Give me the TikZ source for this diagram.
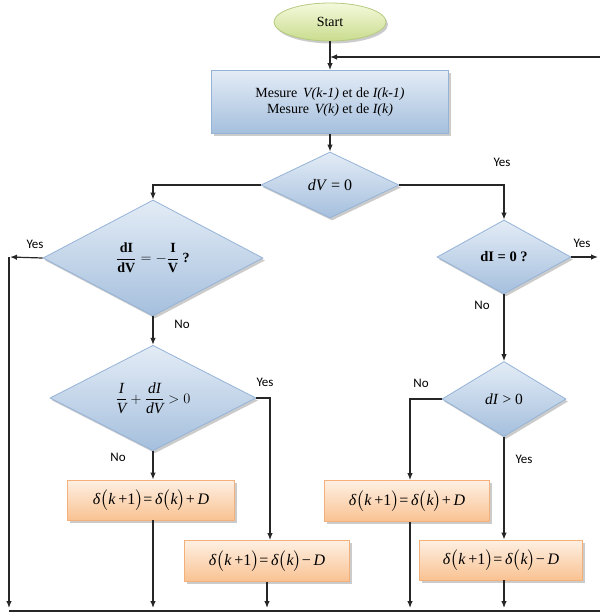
\documentclass[tikz,border=0pt]{standalone}
\usepackage{amsmath}
\usepackage{fontspec}
\setmainfont{Liberation Serif}
\newfontfamily\labfont{Carlito}
\usetikzlibrary{shapes.geometric,shadows,arrows.meta,calc}
\definecolor{stTop}{HTML}{F4F9DC}
\definecolor{stBot}{HTML}{C9DC8E}
\definecolor{stBorder}{HTML}{B5CA80}
\definecolor{blTop}{HTML}{E3ECF6}
\definecolor{blBot}{HTML}{A5BFDD}
\definecolor{blBorder}{HTML}{95B3D7}
\definecolor{orTop}{HTML}{FEF0E3}
\definecolor{orBot}{HTML}{F9C292}
\definecolor{orBorder}{HTML}{F3B07A}
\newcommand{\eqA}{\textbf{$\mathbf{\dfrac{dI}{dV}=-\dfrac{I}{V}}$\ ?}}
\newcommand{\eqB}{$\dfrac{\textit{I}}{\textit{V}}+\dfrac{\textit{dI}}{\textit{dV}}>0$}
\newcommand{\deltaP}{\textit{δ}$\big($\textit{k}\,+1$\big)$=\,\textit{δ}$\big($\textit{k}$\big)$+\,\textit{D}}
\newcommand{\deltaM}{\textit{δ}$\big($\textit{k}\,+1$\big)$=\,\textit{δ}$\big($\textit{k}$\big)$−\,\textit{D}}
\begin{document}
\begin{tikzpicture}[x=1pt,y=-1pt,
  shad/.style={drop shadow={shadow xshift=2pt,shadow yshift=-2.5pt,fill=black!45,opacity=0.45}},
  startnode/.style={ellipse,draw=stBorder,line width=0.8pt,top color=stTop,bottom color=stBot,shad,
    minimum width=112pt,minimum height=38pt,inner sep=0pt,font=\fontsize{14}{16}\selectfont},
  bluebox/.style={rectangle,draw=blBorder,line width=0.8pt,top color=blTop,bottom color=blBot,shad,
    inner sep=0pt,align=center,font=\fontsize{14}{16.5}\selectfont},
  decision/.style={diamond,draw=blBorder,line width=0.8pt,top color=blTop,bottom color=blBot,shad,
    inner sep=0pt,font=\fontsize{13}{15}\selectfont},
  orangebox/.style={rectangle,draw=orBorder,line width=0.8pt,top color=orTop,bottom color=orBot,shad,
    inner sep=0pt,font=\fontsize{16}{18}\selectfont},
  lab/.style={font=\labfont\fontsize{13}{15}\selectfont,inner sep=1pt},
  conn/.style={line width=1.2pt,draw=black!85},
  arr/.style={conn,-{Latex[length=7pt,width=5.5pt]}}
]
\useasboundingbox (0,0) rectangle (600,614);

% nodes
\node[startnode] (start) at (330,22) {Start};
\node[bluebox,minimum width=237pt,minimum height=63pt] (meas) at (330,102) {Mesure\,\ \textit{V(k-1)} et de \textit{I(k-1)}\\Mesure\,\ \textit{V(k)} et de \textit{I(k)}};
\node[decision,minimum width=138pt,minimum height=66pt,font=\fontsize{16}{18}\selectfont] (dv) at (330,185) {\textit{dV} = 0};
\node[decision,minimum width=220pt,minimum height=116pt,font=\fontsize{14}{16}\selectfont] (dA) at (153,258) {\eqA};
\node[decision,minimum width=206pt,minimum height=102pt,font=\fontsize{15.5}{17}\selectfont] (dB) at (153,398) {\eqB};
\node[decision,minimum width=134pt,minimum height=74pt,font=\fontsize{14.5}{16}\selectfont] (di0) at (504,257) {\textbf{dI = 0 ?}};
\node[decision,minimum width=124pt,minimum height=75pt,font=\fontsize{15.5}{17}\selectfont] (dip) at (504,399) {\textit{dI} > 0};

\node[orangebox,minimum width=167pt,minimum height=40pt] (b1) at (151,500) {\deltaP};
\node[orangebox,minimum width=165pt,minimum height=41pt] (b2) at (267,561) {\deltaM};
\node[orangebox,minimum width=165pt,minimum height=41pt] (b3) at (407,501) {\deltaP};
\node[orangebox,minimum width=163pt,minimum height=40pt] (b4) at (501,560) {\deltaM};

% coordinates
\coordinate (fbR) at (600,57);
\coordinate (botL) at (9,611);
\coordinate (botR) at (600,611);
\coordinate (leftTop) at (9,257);
\coordinate (yesR) at (598,257);
\coordinate (xB) at (270,0);
\coordinate (xC) at (267,0);
\coordinate (xD) at (410,0);

% connectors
\draw[arr] (start) -- (meas);
\draw[arr] (fbR) -- (fbR -| start.south);
\draw[arr] (meas) -- (dv);
\draw[arr] (dv.west) -| (dA.north);
\draw[arr] (dv.east) -| (di0.north);
\draw[arr] (dA.west) -- ($(leftTop)+(1,0)$);
\draw[arr] (leftTop) -- ($(botL)+(0,-3)$);
\draw[arr] (dA.south) -- (dB.north);
\draw[arr] (dB.south) -- (b1.north -| dB.south);
\draw[arr] (dB.east) -| (b2.north -| xB);
\draw[arr] (b1.south -| dB.south) -- ($(botL -| dB.south)+(0,-3)$);
\draw[arr] (b2.south -| xC) -- ($(botL -| xC)+(0,-3)$);
\draw[arr] (di0.east) -- (yesR);
\draw[arr] (di0.south) -- (dip.north);
\draw[arr] (dip.west) -| (b3.north -| xD);
\draw[arr] (dip.south) -- (b4.north -| dip.south);
\draw[arr] (b3.south -| xD) -- ($(botL -| xD)+(0,-3)$);
\draw[arr] (b4.south -| dip.south) -- ($(botL -| dip.south)+(0,-3)$);
\draw[conn,line width=1.8pt] (botL) -- (botR);

% labels
\node[lab] (yes1) at (502,162) {Yes};
\node[lab] (yes2) at (35,244) {Yes};
\node[lab] (no1) at (182,324) {No};
\node[lab] (yes3) at (265,382) {Yes};
\node[lab] (no2) at (118,457) {No};
\node[lab] (yes4) at (582,243) {Yes};
\node[lab] (no3) at (482,305) {No};
\node[lab] (no4) at (421,383) {No};
\node[lab] (yes5) at (524,459) {Yes};
\end{tikzpicture}
\end{document}
